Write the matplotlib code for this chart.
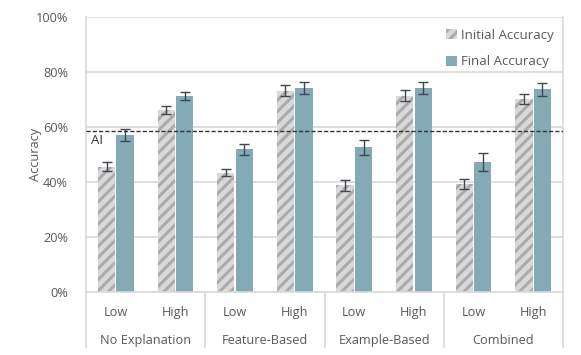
import matplotlib
matplotlib.use("Agg")
import matplotlib.pyplot as plt
import numpy as np

groups = ["No Explanation", "Feature-Based", "Example-Based", "Combined"]
levels = ["Low", "High"]
initial = [45.6, 66.3, 43.4, 73.2, 38.9, 71.4, 39.3, 70.1]
initial_err = [1.5, 1.4, 1.2, 1.9, 2.0, 2.1, 1.8, 1.9]
final = [57.0, 71.4, 52.0, 74.1, 52.6, 74.1, 47.2, 73.7]
final_err = [2.2, 1.5, 2.0, 2.2, 2.7, 2.2, 3.2, 2.3]
ai_accuracy = 58.5
yticks = [0, 20, 40, 60, 80, 100]

plt.rcParams['font.family'] = ['Open Sans', 'DejaVu Sans']
plt.rcParams['hatch.linewidth'] = 2.2
plt.rcParams['hatch.color'] = '#ABABAB'

txt = '#595959'
grid = '#D9D9D9'
teal = '#84AAB5'
fs = 9.2

fig = plt.figure(figsize=(5.81, 3.55), dpi=100)
ax = fig.add_axes([86/581, 1-292/355, (563-86)/581, (292-17)/355])

n = len(initial)
x = np.arange(n) + 0.5
w = 0.29
ax.bar(x - w/2 - 0.01, initial, w, color='#D9D9D9', hatch='///', edgecolor='#ABABAB', linewidth=0,
       label='Initial Accuracy', zorder=2)
ax.bar(x + w/2 + 0.01, final, w, color=teal, linewidth=0, label='Final Accuracy', zorder=2)
ax.errorbar(x - w/2 - 0.01, initial, yerr=initial_err, fmt='none', ecolor='#404552', elinewidth=1,
            capsize=3.5, capthick=1, zorder=3)
ax.errorbar(x + w/2 + 0.01, final, yerr=final_err, fmt='none', ecolor='#404552', elinewidth=1,
            capsize=3.5, capthick=1, zorder=3)

ax.axhline(ai_accuracy, color='#333333', linestyle=(0, (3, 1.5)), linewidth=1, zorder=4)
ax.text(0.08, ai_accuracy - 1.2, 'AI', color='#333333', fontsize=fs + 0.3, va='top', ha='left')

ax.set_xlim(0, n)
ax.set_ylim(0, 100)
ax.set_yticks(yticks)
ax.set_yticklabels([f"{t}%" for t in yticks])
ax.tick_params(axis='y', length=0, labelsize=fs, labelcolor=txt, pad=13)
ax.set_xticks([])
ax.grid(axis='y', color=grid, linewidth=1.2, zorder=0)
ax.set_axisbelow(True)
ax.spines['top'].set_visible(False)
for s in ['left', 'right', 'bottom']:
    ax.spines[s].set_color(grid)
    ax.spines[s].set_linewidth(1.2)

fig.text(36/581, 1 - 154.5/355, 'Accuracy', rotation=90, ha='center', va='center',
         color=txt, fontsize=fs)

trans = ax.get_xaxis_transform()
for i in range(n):
    ax.text(x[i], -0.075, levels[i % 2], transform=trans, ha='center', va='center',
            fontsize=fs, color=txt)
for g, name in enumerate(groups):
    ax.text(2*g + 1, -0.175, name, transform=trans, ha='center', va='center',
            fontsize=fs, color=txt)
for b in range(0, n + 1, 2):
    ax.plot([b, b], [0, -0.2], transform=trans, color=grid, linewidth=1.2, clip_on=False)

leg = ax.legend(loc='upper right', frameon=False, fontsize=fs + 0.3, labelcolor=txt,
                handlelength=0.8, handleheight=0.8, handletextpad=0.3, labelspacing=1.0,
                borderaxespad=0.3, bbox_to_anchor=(1.0, 0.99))

fig.savefig('out.png', dpi=100)
